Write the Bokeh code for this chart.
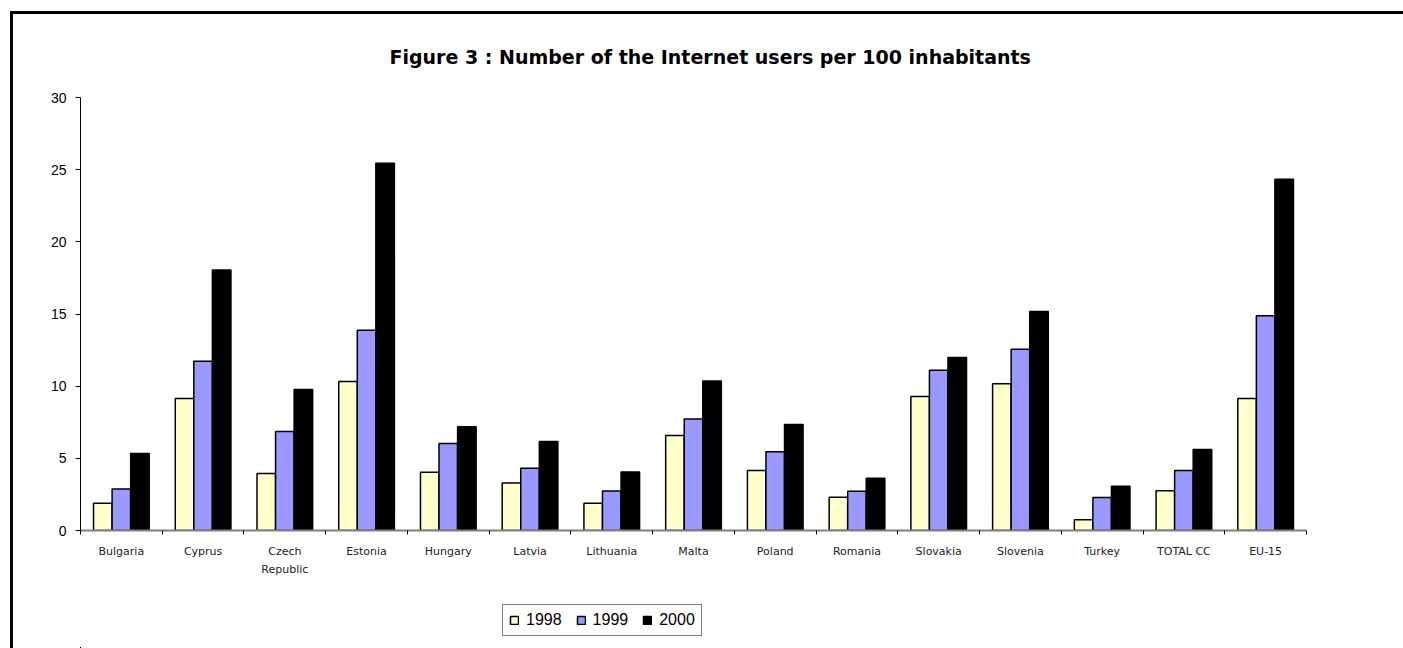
from bokeh.plotting import figure
from bokeh.layouts import column
from bokeh.models import Range1d, FixedTicker, Legend, LegendItem, ColumnDataSource
from bokeh.embed import file_html
from bokeh.resources import INLINE

categories = ["Bulgaria", "Cyprus", "Czech\nRepublic", "Estonia", "Hungary", "Latvia",
              "Lithuania", "Malta", "Poland", "Romania", "Slovakia", "Slovenia",
              "Turkey", "TOTAL CC", "EU-15"]
v1998 = [1.89, 9.14, 3.95, 10.32, 4.03, 3.29, 1.89, 6.59, 4.15, 2.30, 9.28, 10.16, 0.74, 2.76, 9.15]
v1999 = [2.88, 11.73, 6.86, 13.87, 6.03, 4.31, 2.74, 7.72, 5.46, 2.72, 11.10, 12.56, 2.28, 4.15, 14.88]
v2000 = [5.34, 18.04, 9.77, 25.45, 7.19, 6.17, 4.05, 10.35, 7.35, 3.62, 11.98, 15.18, 3.06, 5.62, 24.33]
years = ["1998", "1999", "2000"]
colors = ["#FFFFCC", "#9999FF", "#000000"]
y_ticks = [0, 5, 10, 15, 20, 25, 30]
title_text = "Figure 3 : Number of the Internet users per 100 inhabitants"

n = len(categories)
xs = [i + 1 for i in range(n)]
bounds = [i + 0.5 for i in range(n + 1)]
bar_w = 0.227
offsets = [-bar_w, 0.0, bar_w]
values = [v1998, v1999, v2000]

W = 1390
p = figure(width=W, height=576,
           x_range=Range1d(0.5, n + 0.5), y_range=Range1d(0, 30),
           output_backend="svg", toolbar_location=None,
           min_border_left=67, min_border_right=97,
           min_border_top=82, min_border_bottom=60)

p.xgrid.visible = False
p.ygrid.visible = False
p.outline_line_color = None
p.background_fill_color = "white"
p.border_fill_color = "white"

# title
p.title.text = title_text
p.title.align = "left"
p.title.offset = 309
p.title.text_font = "DejaVu Sans"
p.title.text_font_size = "19px"
p.title.text_font_style = "bold"
p.title.text_color = "black"
p.title.standoff = 59

# bars
for col, vals, off in zip(colors, values, offsets):
    src = ColumnDataSource(dict(x=[x + off for x in xs], top=vals))
    p.vbar(x="x", top="top", width=bar_w, bottom=0, source=src,
           fill_color=col, line_color="black", line_width=1.5)

# x axis
xa = p.xaxis[0]
xa.ticker = FixedTicker(ticks=xs, minor_ticks=bounds)
xa.major_label_overrides = {x: c for x, c in zip(xs, categories)}
xa.major_tick_out = 0
xa.major_tick_in = 0
xa.minor_tick_out = 4
xa.minor_tick_in = 0
xa.minor_tick_line_color = "black"
xa.minor_tick_line_width = 1
xa.axis_line_color = "#808080"
xa.axis_line_width = 2
xa.major_label_standoff = 10
xa.major_label_text_font = "DejaVu Sans"
xa.major_label_text_font_size = "11px"
xa.major_label_text_color = "#222222"
xa.major_label_text_line_height = 1.45

# y axis
ya = p.yaxis[0]
ya.ticker = FixedTicker(ticks=y_ticks)
ya.major_tick_out = 5
ya.major_tick_in = 0
ya.minor_tick_out = 0
ya.minor_tick_in = 0
ya.axis_line_color = "black"
ya.axis_line_width = 1
ya.major_tick_line_color = "black"
ya.major_label_standoff = 9
ya.major_label_text_font = "Liberation Sans"
ya.major_label_text_font_size = "14px"
ya.major_label_text_color = "black"

# legend strip below the chart (its bars lie outside its visible ranges)
p2 = figure(width=W, height=58, title=None, output_backend="svg",
            toolbar_location=None, x_axis_location=None, y_axis_location=None,
            min_border=0, x_range=Range1d(20, 21), y_range=Range1d(40, 41))
p2.xgrid.visible = False
p2.ygrid.visible = False
p2.outline_line_color = None
p2.background_fill_color = "white"
p2.border_fill_color = "white"

items = []
for yr, col, vals in zip(years, colors, values):
    src2 = ColumnDataSource(dict(x=xs, top=vals))
    r = p2.vbar(x="x", top="top", width=bar_w, bottom=0, source=src2, fill_color=col,
                line_color="black", line_width=1.5)
    items.append(LegendItem(label=yr, renderers=[r], index=0))

legend = Legend(items=items, orientation="horizontal", location=(422, 12))
legend.border_line_color = "black"
legend.border_line_width = 1
legend.background_fill_color = "white"
legend.background_fill_alpha = 1
legend.label_text_font = "Liberation Sans"
legend.label_text_font_size = "16px"
legend.label_text_color = "black"
legend.glyph_width = 10
legend.glyph_height = 10
legend.label_standoff = 7
legend.spacing = 14
legend.padding = 6
legend.margin = 0
p2.add_layout(legend, "center")

layout = column(p, p2, spacing=0)
layout.styles = {"border-left": "3px solid #000", "border-top": "3px solid #000",
                 "margin-left": "10px", "margin-top": "11px"}

open("out.html", "w").write(file_html(layout, INLINE))
